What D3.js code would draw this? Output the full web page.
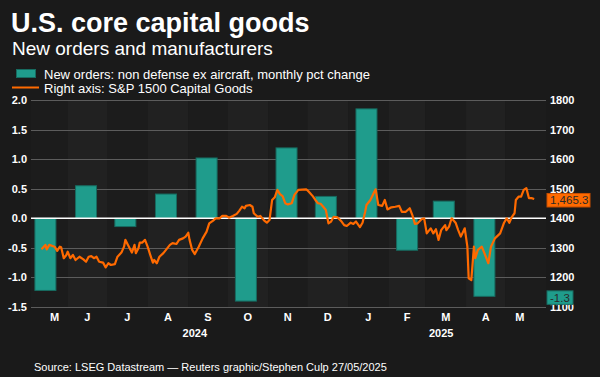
<!DOCTYPE html>
<html lang="en">
<head>
  <meta charset="UTF-8">
  <title>U.S. core capital goods</title>
  <script src="https://d3js.org/d3.v7.min.js"></script>
  <style>
    html, body { margin: 0; padding: 0; background: #1a1a1a; }
    body { font-family: "Liberation Sans", Arial, sans-serif; }
    svg text { font-family: "Liberation Sans", Arial, sans-serif; }
  </style>
</head>
<body>
  <div id="chart"></div>

  <script>
    // monthly new orders, non defense ex aircraft (% change)
    const orderMonths = ["2024-05-15", "2024-06-15", "2024-07-15", "2024-08-15", "2024-09-15", "2024-10-15",
                         "2024-11-15", "2024-12-15", "2025-01-15", "2025-02-15", "2025-03-15", "2025-04-15"];
    const orderValues = [-1.22, 0.55, -0.14, 0.41, 1.02, -1.40, 1.19, 0.37, 1.85, -0.54, 0.29, -1.32];

    // S&P 1500 Capital Goods index (right axis)
    const indexDates = [
      "2024-05-12", "2024-05-15", "2024-05-16", "2024-05-18", "2024-05-22", "2024-05-24", "2024-05-26", "2024-05-27",
      "2024-05-29", "2024-05-31", "2024-06-01", "2024-06-03", "2024-06-05", "2024-06-07", "2024-06-10", "2024-06-13",
      "2024-06-15", "2024-06-17", "2024-06-19", "2024-06-21", "2024-06-23", "2024-06-25", "2024-06-28", "2024-06-30",
      "2024-07-02", "2024-07-04", "2024-07-07", "2024-07-09", "2024-07-12", "2024-07-14", "2024-07-15", "2024-07-17",
      "2024-07-19", "2024-07-20", "2024-07-22", "2024-07-23", "2024-07-25", "2024-07-26", "2024-07-28", "2024-07-30",
      "2024-08-01", "2024-08-03", "2024-08-05", "2024-08-06", "2024-08-08", "2024-08-10", "2024-08-13", "2024-08-15",
      "2024-08-18", "2024-08-20", "2024-08-23", "2024-08-25", "2024-08-28", "2024-08-30", "2024-09-01", "2024-09-02",
      "2024-09-04", "2024-09-06", "2024-09-09", "2024-09-12", "2024-09-15", "2024-09-17", "2024-09-20", "2024-09-22",
      "2024-09-25", "2024-09-27", "2024-09-30", "2024-10-02", "2024-10-05", "2024-10-08", "2024-10-10", "2024-10-12",
      "2024-10-14", "2024-10-15", "2024-10-18", "2024-10-20", "2024-10-21", "2024-10-24", "2024-10-26", "2024-10-29",
      "2024-10-31", "2024-11-02", "2024-11-04", "2024-11-06", "2024-11-08", "2024-11-10", "2024-11-12", "2024-11-14",
      "2024-11-16", "2024-11-19", "2024-11-21", "2024-11-24", "2024-11-30", "2024-12-02", "2024-12-05", "2024-12-07",
      "2024-12-09", "2024-12-11", "2024-12-13", "2024-12-15", "2024-12-17", "2024-12-19", "2024-12-21", "2024-12-24",
      "2024-12-27", "2024-12-29", "2024-12-31", "2025-01-03", "2025-01-05", "2025-01-07", "2025-01-10", "2025-01-12",
      "2025-01-14", "2025-01-15", "2025-01-18", "2025-01-21", "2025-01-22", "2025-01-24", "2025-01-27", "2025-01-29",
      "2025-01-31", "2025-02-03", "2025-02-06", "2025-02-09", "2025-02-11", "2025-02-14", "2025-02-17", "2025-02-19",
      "2025-02-21", "2025-02-23", "2025-02-26", "2025-02-28", "2025-03-02", "2025-03-05", "2025-03-07", "2025-03-09",
      "2025-03-11", "2025-03-13", "2025-03-16", "2025-03-17", "2025-03-19", "2025-03-21", "2025-03-24", "2025-03-26",
      "2025-03-28", "2025-03-31", "2025-04-02", "2025-04-03", "2025-04-05", "2025-04-07", "2025-04-08", "2025-04-10",
      "2025-04-13", "2025-04-15", "2025-04-18", "2025-04-20", "2025-04-23", "2025-04-27", "2025-04-30", "2025-05-02",
      "2025-05-04", "2025-05-06", "2025-05-08", "2025-05-09", "2025-05-11", "2025-05-13", "2025-05-15", "2025-05-17",
      "2025-05-19", "2025-05-21", "2025-05-23"
    ];
    const indexValues = [
      1295, 1310, 1295, 1310, 1304, 1290, 1304, 1302,
      1265, 1276, 1287, 1265, 1276, 1259, 1270, 1261,
      1253, 1270, 1272, 1265, 1270, 1253, 1250, 1234,
      1248, 1242, 1245, 1270, 1284, 1304, 1327, 1310,
      1293, 1284, 1310, 1282, 1299, 1318, 1318, 1327,
      1304, 1276, 1250, 1259, 1248, 1270, 1282, 1293,
      1310, 1316, 1313, 1327, 1332, 1338, 1351, 1327,
      1293, 1279, 1304, 1332, 1355, 1383, 1392, 1400,
      1400, 1408, 1408, 1402, 1408, 1415, 1426, 1439,
      1434, 1442, 1445, 1439, 1417, 1405, 1408, 1392,
      1385, 1394, 1462, 1471, 1496, 1482, 1475, 1451,
      1447, 1451, 1479, 1496, 1498, 1490, 1475, 1462,
      1451, 1449, 1439, 1428, 1383, 1389, 1405, 1403,
      1389, 1377, 1374, 1385, 1381, 1389, 1370, 1385,
      1422, 1445, 1462, 1490, 1498, 1445, 1442, 1462,
      1430, 1437, 1439, 1442, 1422, 1422, 1434, 1411,
      1381, 1383, 1397, 1400, 1349, 1366, 1349, 1363,
      1327, 1360, 1377, 1360, 1372, 1400, 1385, 1360,
      1338, 1366, 1304, 1197, 1191, 1304, 1265, 1293,
      1304, 1282, 1248, 1304, 1332, 1349, 1385, 1400,
      1385, 1405, 1417, 1462, 1473, 1473, 1496, 1502,
      1468, 1468, 1465.3
    ];

    const leftTicks = [-1.5, -1.0, -0.5, 0.0, 0.5, 1.0, 1.5, 2.0];
    const rightTicks = [1100, 1200, 1300, 1400, 1500, 1600, 1700, 1800];
    const monthLetters = ["J", "F", "M", "A", "M", "J", "J", "A", "S", "O", "N", "D"];
    const years = [2024, 2025];

    const W = 600, H = 377;
    const margin = {top: 100, right: 54, bottom: 70, left: 31};
    const width = W - margin.left - margin.right,
          height = H - margin.top - margin.bottom;

    const parse = d3.timeParse("%Y-%m-%d");
    const orders = orderMonths.map((m, i) => ({date: parse(m), value: orderValues[i]}));
    const index = indexDates.map((d, i) => ({date: parse(d), value: indexValues[i]}));

    const svg = d3.select("#chart").append("svg")
      .attr("width", W).attr("height", H)
      .style("display", "block")
      .style("background", "#1a1a1a");

    // titles
    svg.append("text").attr("x", 11).attr("y", 32)
      .attr("fill", "#ffffff").attr("font-size", 27).attr("font-weight", "bold")
      .text("U.S. core capital goods");
    svg.append("text").attr("x", 12).attr("y", 55)
      .attr("fill", "#ffffff").attr("font-size", 19)
      .text("New orders and manufacturers");

    // legend
    svg.append("rect").attr("x", 16.5).attr("y", 69.5).attr("width", 19).attr("height", 8)
      .attr("fill", "#1f9c8c").attr("stroke", "#176b60");
    svg.append("text").attr("x", 44).attr("y", 79)
      .attr("fill", "#ffffff").attr("font-size", 13)
      .text("New orders: non defense ex aircraft, monthly pct change");
    svg.append("line").attr("x1", 12).attr("x2", 39).attr("y1", 87.5).attr("y2", 87.5)
      .attr("stroke", "#ff6a00").attr("stroke-width", 2);
    svg.append("text").attr("x", 44).attr("y", 92.5)
      .attr("fill", "#ffffff").attr("font-size", 13)
      .text("Right axis: S&P 1500 Capital Goods");

    const g = svg.append("g").attr("transform", `translate(${margin.left},${margin.top})`);

    const x = d3.scaleTime()
      .domain([parse("2024-05-04"), parse("2025-06-01")])
      .range([0, width]);
    const y = d3.scaleLinear().domain([-1.5, 2.0]).range([height, 0]);
    const y2 = d3.scaleLinear().domain([1100, 1800]).range([height, 0]);

    // alternating month stripes
    const months = d3.timeMonth.range(d3.timeMonth.floor(x.domain()[0]), x.domain()[1]);
    g.selectAll(".stripe").data(months).enter().append("rect")
      .attr("x", d => Math.max(0, x(d)))
      .attr("y", 0)
      .attr("width", d => Math.min(width, x(d3.timeMonth.offset(d, 1))) - Math.max(0, x(d)))
      .attr("height", height)
      .attr("fill", (d, i) => i % 2 ? "#212121" : "#1c1c1c");

    // grid
    g.selectAll(".grid").data(leftTicks.filter(t => t !== 0)).enter().append("line")
      .attr("x1", 0).attr("x2", width)
      .attr("y1", d => Math.round(y(d)) + 0.5).attr("y2", d => Math.round(y(d)) + 0.5)
      .attr("stroke", "#5c5c5c").attr("stroke-width", 1);

    // left axis (plain hyphen for negatives)
    const yAxis = g.append("g")
      .call(d3.axisLeft(y).tickValues(leftTicks).tickFormat(d => d.toFixed(1)).tickSize(0).tickPadding(4));
    yAxis.select(".domain").remove();
    yAxis.selectAll("text").attr("fill", "#ffffff").attr("font-size", 11).attr("font-weight", "bold");

    // right axis
    const y2Axis = g.append("g").attr("transform", `translate(${width},0)`)
      .call(d3.axisRight(y2).tickValues(rightTicks).tickFormat(d3.format("d")).tickSize(0).tickPadding(4));
    y2Axis.select(".domain").remove();
    y2Axis.selectAll("text").attr("fill", "#ffffff").attr("font-size", 11).attr("font-weight", "bold");

    // bars
    const barW = 21;
    g.selectAll(".bar").data(orders).enter().append("rect")
      .attr("class", "bar")
      .attr("x", d => x(d.date) - barW / 2)
      .attr("y", d => y(Math.max(0, d.value)))
      .attr("width", barW)
      .attr("height", d => Math.abs(y(d.value) - y(0)))
      .attr("fill", "#1f9c8c")
      .attr("stroke", "#176b60").attr("stroke-width", 1);

    // zero line
    g.append("line").attr("x1", 0).attr("x2", width)
      .attr("y1", y(0)).attr("y2", y(0))
      .attr("stroke", "#ffffff").attr("stroke-width", 1.5);

    // index line
    const line = d3.line().x(d => x(d.date)).y(d => y2(d.value));
    g.append("path").datum(index)
      .attr("d", line)
      .attr("fill", "none")
      .attr("stroke", "#ff6a00").attr("stroke-width", 2.2)
      .attr("stroke-linejoin", "round");

    // month and year labels, centred on the part of each period that holds data
    const first = index[0].date, last = index[index.length - 1].date;
    const mid = (a, b) => {
      const s = a < first ? first : a, e = b > last ? last : b;
      return (x(s) + x(e)) / 2;
    };
    const dataMonths = d3.timeMonth.range(d3.timeMonth.floor(first), last);
    g.selectAll(".mlab").data(dataMonths).enter().append("text")
      .attr("x", d => mid(d, d3.timeMonth.offset(d, 1)))
      .attr("y", height + 13.5)
      .attr("text-anchor", "middle")
      .attr("fill", "#ffffff").attr("font-size", 11).attr("font-weight", "bold")
      .text(d => monthLetters[d.getMonth()]);
    g.selectAll(".ylab").data(years).enter().append("text")
      .attr("x", d => mid(new Date(d, 0, 1), new Date(d + 1, 0, 1)))
      .attr("y", height + 30)
      .attr("text-anchor", "middle")
      .attr("fill", "#ffffff").attr("font-size", 11).attr("font-weight", "bold")
      .text(d => d);

    // last value tags
    const lastIdx = index[index.length - 1];
    const lastOrd = orders[orders.length - 1];
    const tag = (val, txt, fill, stroke, w) => {
      const t = g.append("g").attr("transform", `translate(${width + 1},${val + 1})`);
      t.append("rect").attr("x", 0).attr("y", -6.5).attr("width", w).attr("height", 13.5)
        .attr("fill", fill).attr("stroke", stroke);
      t.append("text").attr("x", 3).attr("y", 4.5)
        .attr("fill", "#2a2a2a").attr("font-size", 11.5)
        .text(txt);
    };
    tag(y2(lastIdx.value), d3.format(",.1f")(lastIdx.value), "#ff6a00", "#c84e00", 43);
    tag(y(lastOrd.value), lastOrd.value.toFixed(1), "#1f9c8c", "#176b60", 26);

    // source
    svg.append("text").attr("x", 34).attr("y", 371)
      .attr("fill", "#ffffff").attr("font-size", 11)
      .text("Source: LSEG Datastream \u2014 Reuters graphic/Stephen Culp 27/05/2025");
  </script>
</body>
</html>
